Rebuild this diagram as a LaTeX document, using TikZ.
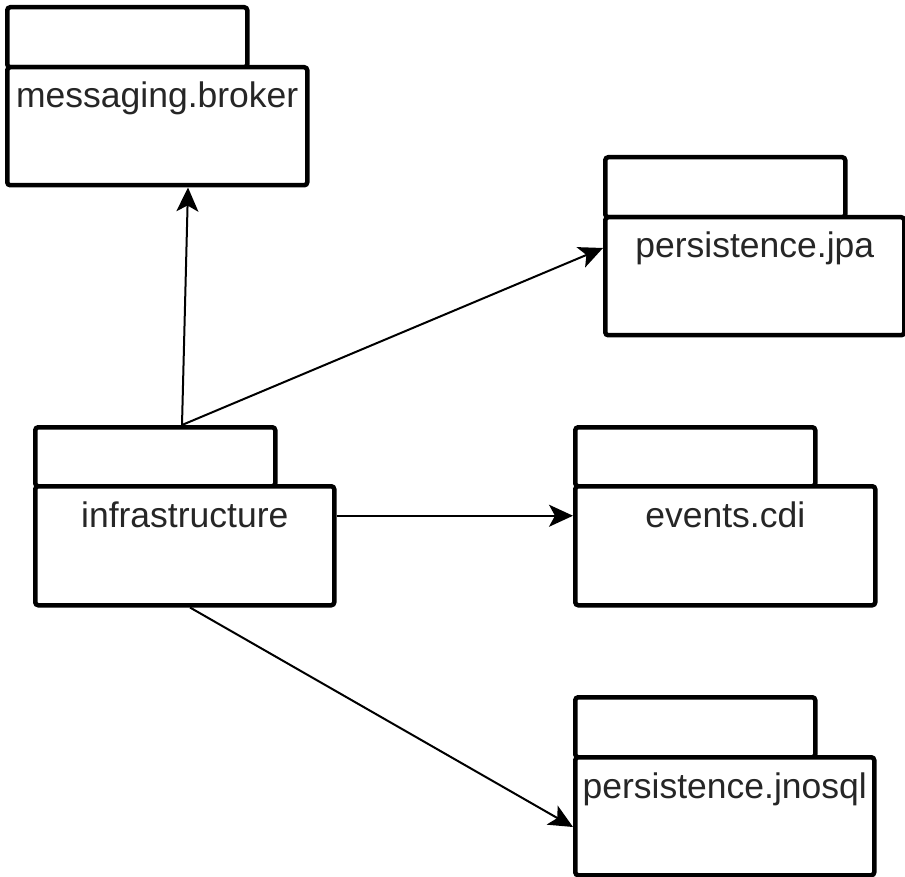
\documentclass[tikz,border=0pt]{standalone}
\usepackage{fontspec}
\setmainfont{Liberation Sans}
\usetikzlibrary{arrows.meta}
\begin{document}
\begin{tikzpicture}[x=1pt,y=-1pt,
  tabbox/.style={draw, line width=4.5pt, rounded corners=3pt, anchor=north west, minimum width=240pt, minimum height=60pt, inner sep=0pt, fill=white},
  bodybox/.style={draw, line width=4.5pt, rounded corners=3pt, anchor=north west, minimum width=300pt, minimum height=118pt, inner sep=0pt, fill=white},
  lbl/.style={anchor=base, inner sep=0pt, text=black!85, font=\fontsize{35.5}{40}\selectfont},
  arr/.style={line width=2pt, -{Stealth[length=24pt,width=22pt,inset=6pt]}}]
\useasboundingbox (0,0) rectangle (905,877);
% messaging.broker
\node[tabbox] (btab) at (5,5) {};
\node[bodybox] (bbody) at (5,65) {};
\node[lbl] (btext) at ([yshift=-43pt]bbody.north) {messaging.broker};
% persistence.jpa
\node[tabbox] (ptab) at (603,155) {};
\node[bodybox, minimum width=299pt] (pbody) at (603,215) {};
\node[lbl] (ptext) at ([yshift=-43pt]pbody.north) {persistence.jpa};
% infrastructure
\node[tabbox, minimum height=59pt] (itab) at (33,425) {};
\node[bodybox, minimum width=299pt, minimum height=119pt] (ibody) at (33,484) {};
\node[lbl] (itext) at ([yshift=-43pt]ibody.north) {infrastructure};
% events.cdi
\node[tabbox, minimum height=59pt] (etab) at (573,425) {};
\node[bodybox, minimum height=119pt] (ebody) at (573,484) {};
\node[lbl] (etext) at ([yshift=-43pt]ebody.north) {events.cdi};
% persistence.jnosql
\node[tabbox] (ntab) at (573,695) {};
\node[bodybox, minimum width=299pt] (nbody) at (573,755) {};
\node[lbl] (ntext) at ([yshift=-43pt]nbody.north) {persistence.jnosql};
% connectors
\draw[arr] ([xshift=149pt]itab.north west) -- ([xshift=183pt]bbody.south west);
\draw[arr] ([xshift=149pt]itab.north west) -- ([yshift=-33pt]pbody.north west);
\draw[arr] ([yshift=30pt]ibody.east) -- ([yshift=30pt]ebody.west);
\draw[arr] ([xshift=157pt]ibody.south west) -- ([yshift=-72pt]nbody.north west);
\end{tikzpicture}
\end{document}
